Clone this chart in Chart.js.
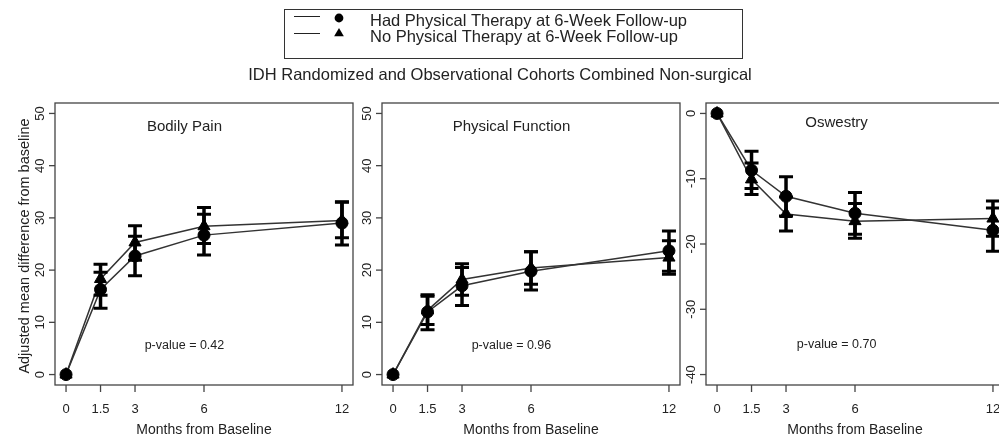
<!DOCTYPE html>
<html>
<head>
<meta charset="utf-8">
<script src="https://cdn.jsdelivr.net/npm/chart.js@4.4.1/dist/chart.umd.min.js"></script>
<style>
  html, body { margin: 0; padding: 0; background: #fff; overflow: hidden; }
  #wrap { position: relative; width: 999px; height: 437px; overflow: hidden; }
  #wrap canvas { position: absolute; left: 0; top: 0; }
</style>
</head>
<body>
<div id="wrap">
  <canvas id="chart-pain" width="1020" height="437"></canvas>
  <canvas id="chart-function" width="1020" height="437"></canvas>
  <canvas id="chart-odi" width="1020" height="437"></canvas>
</div>
<script>
const months = [0, 1.5, 3, 6, 12];
const xTicks = [0, 1.5, 3, 6, 12];
const xTitle = "Months from Baseline";
const yTitle = "Adjusted mean difference from baseline";
const mainTitle = "IDH Randomized and Observational Cohorts Combined Non-surgical";
const legendLabels = ["Had Physical Therapy at 6-Week Follow-up", "No Physical Therapy at 6-Week Follow-up"];

// Bodily Pain
const painPT = [0, 16.3, 22.7, 26.7, 29.0];
const painPTLow = [0, 12.7, 18.9, 22.9, 24.8];
const painPTHigh = [0, 19.6, 26.5, 30.7, 33.1];
const painNoPT = [0, 18.3, 25.3, 28.4, 29.5];
const painNoPTLow = [0, 15.2, 21.9, 25.1, 26.2];
const painNoPTHigh = [0, 21.1, 28.5, 32.0, 33.0];

// Physical Function
const funcPT = [0, 12.0, 17.0, 19.8, 23.7];
const funcPTLow = [0, 8.6, 13.2, 16.2, 19.8];
const funcPTHigh = [0, 15.3, 20.5, 23.5, 27.5];
const funcNoPT = [0, 12.3, 18.2, 20.4, 22.4];
const funcNoPTLow = [0, 9.6, 15.2, 17.3, 19.2];
const funcNoPTHigh = [0, 15.0, 21.2, 23.5, 25.6];

// Oswestry
const odiPT = [0, -8.7, -12.7, -15.3, -17.9];
const odiPTLow = [0, -11.5, -15.7, -18.5, -21.1];
const odiPTHigh = [0, -5.8, -9.7, -12.1, -14.5];
const odiNoPT = [0, -10.1, -15.4, -16.5, -16.1];
const odiNoPTLow = [0, -12.4, -18.0, -19.1, -18.8];
const odiNoPTHigh = [0, -7.6, -12.8, -13.8, -13.4];

const sfTicks = [0, 10, 20, 30, 40, 50];
const odiTicks = [0, -10, -20, -30, -40];

const FONT = "'Liberation Sans', Arial, sans-serif";
const INK = "#222";
const FRAME = "#444";
const W = 1020;
const H = 437;
const BOX_TOP = 103;
const BOX_BOTTOM = 385;

function toXY(values) {
  return values.map((v, i) => ({ x: months[i], y: v }));
}

function drawMarker(ctx, style, x, y, r) {
  ctx.beginPath();
  if (style === "circle") {
    ctx.arc(x, y, r, 0, Math.PI * 2);
  } else {
    ctx.moveTo(x, y - r);
    ctx.lineTo(x + r * 0.866, y + r / 2);
    ctx.lineTo(x - r * 0.866, y + r / 2);
    ctx.closePath();
  }
  ctx.fill();
}

// legend box and overall title, drawn once on the first canvas
const headerPlugin = {
  id: "header",
  afterDraw(chart) {
    const ctx = chart.ctx;
    ctx.save();
    ctx.strokeStyle = "#333";
    ctx.lineWidth = 1;
    ctx.strokeRect(284.5, 9.5, 458, 49);

    const rows = [
      { y: 16.5, text: 26, style: "circle", my: 18, r: 4.4 },
      { y: 33.5, text: 42, style: "triangle", my: 33.5, r: 5.6 }
    ];
    ctx.font = "16.5px " + FONT;
    ctx.textAlign = "left";
    ctx.textBaseline = "alphabetic";
    rows.forEach((row, i) => {
      ctx.strokeStyle = "#222";
      ctx.beginPath();
      ctx.moveTo(294, row.y);
      ctx.lineTo(320, row.y);
      ctx.stroke();
      ctx.fillStyle = "#000";
      drawMarker(ctx, row.style, 339, row.my, row.r);
      ctx.fillStyle = INK;
      ctx.fillText(legendLabels[i], 370, row.text);
    });

    ctx.textAlign = "center";
    ctx.fillText(mainTitle, 500, 80);
    ctx.restore();
  }
};

function makePanel(canvasId, cfg) {
  const errorBars = {
    id: "errorBars",
    afterDatasetsDraw(chart) {
      const ctx = chart.ctx;
      const xs = chart.scales.x;
      const ys = chart.scales.y;
      const bounds = [[cfg.ptLow, cfg.ptHigh], [cfg.noLow, cfg.noHigh]];
      ctx.save();
      ctx.strokeStyle = "#000";
      bounds.forEach(([low, high]) => {
        months.forEach((m, i) => {
          if (high[i] === low[i]) return;
          const px = xs.getPixelForValue(m);
          const y1 = ys.getPixelForValue(low[i]);
          const y2 = ys.getPixelForValue(high[i]);
          ctx.lineWidth = 3.5;
          ctx.beginPath();
          ctx.moveTo(px, y1);
          ctx.lineTo(px, y2);
          ctx.stroke();
          ctx.lineWidth = 3;
          ctx.beginPath();
          ctx.moveTo(px - 7, y1);
          ctx.lineTo(px + 7, y1);
          ctx.moveTo(px - 7, y2);
          ctx.lineTo(px + 7, y2);
          ctx.stroke();
        });
      });
      ctx.restore();
    }
  };

  // R style frame, outside ticks, vertical y labels
  const frame = {
    id: "frame",
    afterDraw(chart) {
      const ctx = chart.ctx;
      const a = chart.chartArea;
      const xs = chart.scales.x;
      const ys = chart.scales.y;
      ctx.save();
      ctx.strokeStyle = FRAME;
      ctx.lineWidth = 1.3;
      ctx.strokeRect(a.left, a.top, a.right - a.left, a.bottom - a.top);

      ctx.fillStyle = INK;
      ctx.font = "13px " + FONT;
      ctx.textAlign = "center";
      ctx.textBaseline = "alphabetic";
      xTicks.forEach((v) => {
        const px = xs.getPixelForValue(v);
        ctx.beginPath();
        ctx.moveTo(px, a.bottom);
        ctx.lineTo(px, a.bottom + 7);
        ctx.stroke();
        ctx.fillText(String(v), px, a.bottom + 28);
      });
      cfg.yTicks.forEach((v) => {
        const py = ys.getPixelForValue(v);
        ctx.beginPath();
        ctx.moveTo(a.left - 6, py);
        ctx.lineTo(a.left, py);
        ctx.stroke();
        ctx.save();
        ctx.translate(a.left - 11.5, py);
        ctx.rotate(-Math.PI / 2);
        ctx.fillText(String(v), 0, 0);
        ctx.restore();
      });

      ctx.font = "14px " + FONT;
      ctx.fillText(xTitle, (a.left + a.right) / 2, a.bottom + 49);
      if (cfg.showYTitle) {
        ctx.save();
        ctx.font = "14.5px " + FONT;
        ctx.translate(28.5, 246);
        ctx.rotate(-Math.PI / 2);
        ctx.fillText(yTitle, 0, 0);
        ctx.restore();
      }

      ctx.textBaseline = "middle";
      ctx.font = "15px " + FONT;
      ctx.fillText(cfg.title, xs.getPixelForValue(cfg.titleAt[0]), ys.getPixelForValue(cfg.titleAt[1]));
      ctx.font = "12.5px " + FONT;
      ctx.fillText(cfg.pValue, xs.getPixelForValue(cfg.pAt[0]), ys.getPixelForValue(cfg.pAt[1]));
      ctx.restore();
    }
  };

  const plugins = [errorBars, frame];
  if (cfg.header) plugins.push(headerPlugin);

  return new Chart(document.getElementById(canvasId), {
    type: "line",
    data: {
      datasets: [
        {
          label: legendLabels[0],
          data: toXY(cfg.pt),
          borderColor: "#333",
          borderWidth: 1.5,
          pointStyle: "circle",
          pointRadius: 6,
          pointBackgroundColor: "#000",
          pointBorderColor: "#000",
          pointBorderWidth: 1
        },
        {
          label: legendLabels[1],
          data: toXY(cfg.noPt),
          borderColor: "#333",
          borderWidth: 1.5,
          pointStyle: "triangle",
          pointRadius: 7,
          pointBackgroundColor: "#000",
          pointBorderColor: "#000",
          pointBorderWidth: 1
        }
      ]
    },
    options: {
      responsive: false,
      animation: false,
      events: [],
      layout: {
        padding: { left: cfg.left, right: W - cfg.right, top: BOX_TOP, bottom: H - BOX_BOTTOM }
      },
      elements: { line: { tension: 0 } },
      plugins: { legend: { display: false }, tooltip: { enabled: false } },
      scales: {
        x: { type: "linear", display: false, min: -0.48, max: 12.48 },
        y: { type: "linear", display: false, min: cfg.yMin, max: cfg.yMax }
      }
    },
    plugins
  });
}

makePanel("chart-pain", {
  left: 55, right: 353, header: true, showYTitle: true,
  pt: painPT, ptLow: painPTLow, ptHigh: painPTHigh,
  noPt: painNoPT, noLow: painNoPTLow, noHigh: painNoPTHigh,
  yMin: -2, yMax: 52, yTicks: sfTicks,
  title: "Bodily Pain", titleAt: [5.15, 47.4],
  pValue: "p-value = 0.42", pAt: [5.15, 5.5]
});

makePanel("chart-function", {
  left: 382, right: 680,
  pt: funcPT, ptLow: funcPTLow, ptHigh: funcPTHigh,
  noPt: funcNoPT, noLow: funcNoPTLow, noHigh: funcNoPTHigh,
  yMin: -2, yMax: 52, yTicks: sfTicks,
  title: "Physical Function", titleAt: [5.15, 47.4],
  pValue: "p-value = 0.96", pAt: [5.15, 5.5]
});

makePanel("chart-odi", {
  left: 706, right: 1004,
  pt: odiPT, ptLow: odiPTLow, ptHigh: odiPTHigh,
  noPt: odiNoPT, noLow: odiNoPTLow, noHigh: odiNoPTHigh,
  yMin: -41.6, yMax: 1.6, yTicks: odiTicks,
  title: "Oswestry", titleAt: [5.2, -1.5],
  pValue: "p-value = 0.70", pAt: [5.2, -35.4]
});
</script>
</body>
</html>
